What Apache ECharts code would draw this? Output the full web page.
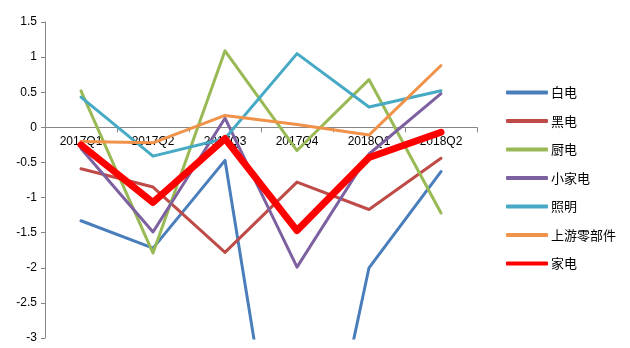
<!DOCTYPE html>
<html><head><meta charset="utf-8">
<script src="https://cdn.jsdelivr.net/npm/echarts@6/dist/echarts.min.js"></script>
<style>html,body{margin:0;padding:0;background:#fff}#c{width:630px;height:348px}</style>
</head><body><div id="c"></div>
<script>
const categories = ['2017Q1','2017Q2','2017Q3','2017Q4','2018Q1','2018Q2'];
const baiDian = [-1.33, -1.72, -0.47, -6.8, -2.0, -0.63];
const heiDian = [-0.59, -0.85, -1.78, -0.78, -1.17, -0.44];
const chuDian = [0.52, -1.79, 1.09, -0.33, 0.68, -1.22];
const xiaoJiaDian = [-0.3, -1.49, 0.13, -1.99, -0.38, 0.48];
const zhaoMing = [0.43, -0.41, -0.16, 1.05, 0.29, 0.52];
const shangYou = [-0.2, -0.22, 0.17, 0.04, -0.11, 0.88];
const jiaDian = [-0.25, -1.07, -0.16, -1.47, -0.43, -0.07];
const names = ['白电','黑电','厨电','小家电','照明','上游零部件','家电'];
const colors = ['#4A7EBB','#BE4B48','#98B954','#7D60A0','#46AAC5','#F0924A','#FF0000'];
const datas = [baiDian, heiDian, chuDian, xiaoJiaDian, zhaoMing, shangYou, jiaDian];

const gridTop = 22, gridBottom = 10, H = 348;
const yMin = -3, yMax = 1.5;
const plotH = H - gridTop - gridBottom;
const zeroOffset = -plotH * (0 - yMin) / (yMax - yMin);

const chart = echarts.init(document.getElementById('c'), null, {renderer:'canvas'});
chart.setOption({
  animation: false,
  backgroundColor: '#fff',
  color: colors,
  grid: {left: 45, right: 153, top: gridTop, bottom: gridBottom, containLabel: false, outerBoundsMode: 'none'},
  legend: {
    orient: 'vertical', left: 501, top: 81, itemGap: 15.5,
    itemWidth: 42, itemHeight: 4,
    textStyle: {fontFamily: 'Noto Sans CJK SC', fontSize: 13, color: '#000', padding: [0,0,0,-2]},
    data: names.map((n,i)=>({name:n, icon:'roundRect'}))
  },
  xAxis: {
    type: 'category', data: categories, boundaryGap: true, offset: zeroOffset, z: 0,
    axisLine: {onZero: false, lineStyle: {color: '#868686', width: 1}},
    axisTick: {show: true, inside: false, length: 5, lineStyle: {color: '#868686'}},
    axisLabel: {color: '#000', fontFamily: 'Liberation Sans', fontSize: 12, margin: 8}
  },
  yAxis: {
    type: 'value', min: yMin, max: yMax, interval: 0.5,
    axisLine: {show: true, lineStyle: {color: '#868686'}},
    axisTick: {show: true, length: 4, lineStyle: {color: '#868686'}},
    splitLine: {show: false},
    axisLabel: {color: '#000', fontFamily: 'Liberation Sans', fontSize: 12, margin: 8}
  },
  series: datas.map((d,i)=>({
    name: names[i], type: 'line', data: d, symbol: 'none', clip: true,
    lineStyle: {width: i===6 ? 7 : 3, color: colors[i], cap: 'round', join: 'round'},
    itemStyle: {color: colors[i]},
    z: i===6 ? 10 : 3
  }))
});
</script></body></html>
